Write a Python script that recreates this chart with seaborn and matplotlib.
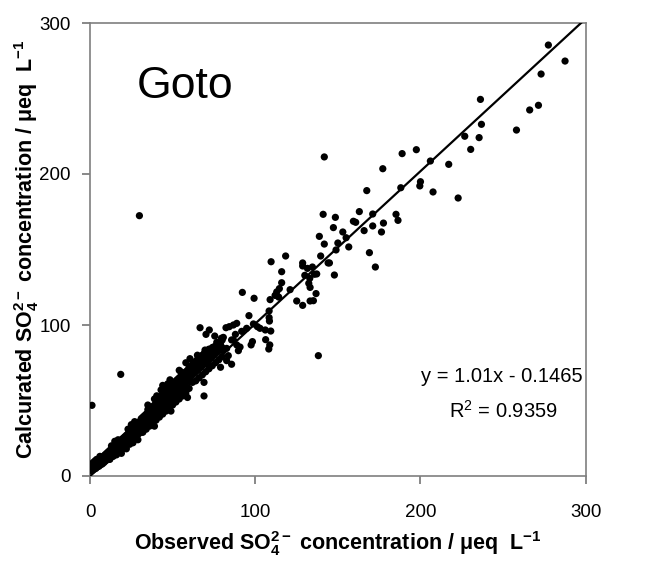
import numpy as np
import pandas as pd
import matplotlib
matplotlib.use("Agg")
import matplotlib.pyplot as plt
import seaborn as sns

# ---------------- data ----------------
band_0_10 = [(0.5, 4), (0.8, 6), (1, 5), (1, 8), (1.2, 3.5), (1.5, 6), (2, 5.5), (2, 7), (2, 9),
             (2.5, 4.5), (3, 6), (3, 8), (3, 10), (3.5, 5), (4, 7), (4, 9), (4, 11), (4.5, 6),
             (5, 8), (5, 10), (5.5, 6.5), (6, 9), (6, 11), (6, 13), (6.5, 7.5), (7, 10), (7, 12),
             (7.5, 8), (8, 11), (8, 13), (8.5, 9), (9, 12), (9, 14), (9.5, 10), (10, 12), (10, 15)]
band_10_20 = [(10.5, 11), (11, 13), (11, 16), (11.5, 12), (12, 14), (12, 17), (12.5, 12.5), (13, 15),
              (13, 18), (13.5, 13), (14, 16), (14, 19), (14.5, 14), (15, 17), (15, 20), (15.5, 15),
              (16, 18), (16, 21), (16.5, 15), (17, 19), (17, 22), (17.5, 16), (18, 20), (18, 23),
              (18.5, 17), (19, 21), (19, 24), (19.5, 18), (20, 22), (20, 25), (12, 11), (14, 13),
              (16, 14), (18, 16), (20, 18), (13, 20), (17, 24)]
band_20_30 = [(20.5, 20), (21, 23), (21, 26), (21.5, 19), (22, 24), (22, 27), (22.5, 21), (23, 25),
              (23, 28), (23.5, 22), (24, 26), (24, 29), (24.5, 23), (25, 27), (25, 31), (25.5, 24),
              (26, 28), (26, 32), (26.5, 25), (27, 29), (27, 33), (27.5, 26), (28, 30), (28, 34),
              (28.5, 27), (29, 31), (29, 35), (29.5, 28), (30, 32), (30, 36), (22, 18), (26, 22),
              (24, 21), (28, 25), (30, 29), (23, 31), (27, 36)]
band_30_40 = [(30.5, 30), (31, 33), (31, 38), (31.5, 29), (32, 34), (32, 39), (32.5, 31), (33, 35),
              (33, 40), (33.5, 32), (34, 36), (34, 41), (34.5, 33), (35, 37), (35, 42), (35.5, 34),
              (36, 38), (36, 44), (36.5, 35), (37, 39), (37, 45), (37.5, 36), (38, 40), (38, 46),
              (38.5, 37), (39, 41), (39, 47), (39.5, 38), (40, 42), (40, 48), (32, 29), (34, 31),
              (36, 33), (38, 35), (40, 37), (35, 47), (39, 51), (40.4, 53.1)]
band_40_60 = [(40.5, 40), (41, 44), (41, 50), (41.5, 41), (42, 45), (42, 51), (42.5, 42), (43, 46),
              (43, 53), (43.5, 43), (44, 47), (44, 54), (44.5, 44), (45, 48), (45, 55), (45.5, 45),
              (46, 49), (46, 56), (46.5, 46), (47, 50), (47, 57), (47.5, 47), (48, 51), (48, 58),
              (48.5, 48), (49, 52), (49, 59), (49.5, 49), (50, 53), (50, 60), (42, 39), (44, 41),
              (46, 43), (48, 45), (50, 47), (43, 57), (47, 61), (44, 60), (48.4, 63.7),
              (50.5, 51), (51, 55), (51, 62), (51.5, 52), (52, 56), (52, 63), (52.5, 53), (53, 57),
              (53, 64), (54, 58), (54, 65), (55, 59), (55, 66), (55.5, 56), (56, 60), (56, 67),
              (57, 61), (57, 68), (57.5, 58), (58, 62), (58, 69), (59, 63), (59, 70), (60, 64),
              (60, 72), (52, 49), (54, 51), (56, 53), (58, 55), (60, 58), (54, 70), (58, 75)]
band_60_90 = [(61, 66), (61, 72), (62, 67), (62, 74), (63, 68), (63, 75), (64, 69), (64, 76), (65, 70),
              (65, 77), (66, 71), (66, 78), (67, 72), (67, 79), (68, 73), (68, 80), (69, 74), (69, 81),
              (70, 75), (70, 82), (71, 76), (72, 77), (72, 84), (73, 78), (74, 79), (74, 85), (75, 80),
              (76, 81), (76, 86), (77, 82), (78, 83), (78, 88), (79, 84), (80, 85), (80, 90), (62, 62),
              (64, 63), (66, 65), (68, 67), (70, 69), (72, 71), (74, 73), (76, 75), (78, 77), (80, 79),
              (60.5, 77.7), (74.7, 85.4), (78.7, 87.6), (80.7, 83), (83.7, 79.7), (89.8, 83),
              (90.8, 85.4), (80.7, 91.8), (76.7, 88.5), (73.6, 78.6), (71.6, 74.2), (63.6, 69.7),
              (56.5, 65.3), (54.5, 57.5), (70.6, 83), (82.7, 76.4), (69, 53)]
band_center = [(2.5, 6), (5, 7), (7, 9), (9, 11), (11, 14), (13, 16), (15, 18), (17, 20), (19, 22),
               (21, 24), (23, 26), (25, 28), (27, 31), (29, 33), (31, 35), (33, 37), (35, 39),
               (37, 42), (39, 44), (41, 46), (43, 49), (45, 51), (47, 53), (49, 55), (51, 58),
               (53, 60), (55, 62), (57, 64), (59, 66), (61, 69), (63, 71), (65, 73), (67, 75),
               (69, 77), (71, 79), (73, 81), (75, 83), (77, 85), (79, 87), (15, 23), (25, 34),
               (35, 44), (45, 58), (55, 69), (65, 80), (19, 15), (29, 24), (39, 33), (49, 43),
               (59, 52), (69, 62), (79, 72)]
mid_pts = [(66.6, 98.2), (69.6, 83.4), (70.2, 93.8), (72.2, 96.7), (75.5, 92.7), (79.5, 91.2),
           (82.3, 98.2), (82.7, 84.5), (84.3, 98.9), (85.7, 74), (85.7, 90.1), (86.8, 90.1),
           (86.8, 100), (88, 93.8), (88.8, 101.1), (88.8, 86.8), (91.8, 95.8), (92.2, 121.6),
           (94.8, 97.8), (96.2, 106.2), (97.5, 86.8), (98.3, 89), (98.9, 100.7), (99.3, 117.7),
           (101.3, 98.9), (102.9, 97.8), (106.1, 96.7), (106.3, 90.3), (108.2, 84.1), (108.8, 86.8),
           (109.4, 96), (108.6, 102.6), (108.4, 104.9), (108.4, 109.3), (109, 116.8), (109.6, 141.9),
           (112, 119.6), (113, 121.9), (114.2, 118.5), (114.6, 124.1), (116, 128), (116, 135.3),
           (118.4, 145.7), (121.1, 123.4), (125.1, 115.9), (128.7, 113), (128.7, 139.1),
           (128.7, 141.1), (130, 132.9), (131.6, 137.5), (133.2, 124.9), (132.4, 127.6),
           (133, 130.9), (134.6, 138.4), (135.8, 133.6), (137.2, 133.8), (133.2, 115.9),
           (135.2, 116.1), (136.8, 120.8)]
high_pts = [(138.8, 158.7), (139.6, 145.7), (141.1, 173.3), (141.8, 153.6), (144.1, 141.1),
            (144.9, 141.1), (147.3, 164.5), (147.9, 133.1), (148.5, 171.3), (148.9, 149.7),
            (150, 154.3), (153, 161.6), (155, 157.8), (156.6, 151.7), (159.4, 168.7), (160.8, 168),
            (163, 175.1), (165.9, 162.5), (167.5, 189), (169.1, 147.9), (171.1, 165.6),
            (171.1, 173.5), (172.7, 138.4), (176.4, 161.6), (177.6, 167.5), (177.2, 203.5),
            (185.2, 173.3), (186.4, 169.3), (188.1, 190.9), (188.9, 213.5), (197.5, 216.1),
            (199.6, 192.1), (200, 194.9), (206, 208.6), (207.6, 188.1), (217.1, 206.4),
            (222.8, 184.1), (226.8, 225), (230.4, 216.3), (235.5, 224.1), (236.9, 232.9),
            (236.3, 249.4), (258.1, 229.1), (266.1, 242.4), (271.4, 245.5), (273, 266.2),
            (277.4, 285.4), (287.5, 274.8)]
outlier_pts = [(1.2, 46.8), (18.6, 67.3), (29.9, 172.4), (138.2, 79.7), (141.8, 211.3)]

fit_slope = 1.01
fit_intercept = -0.1465
r_squared = 0.9359

x_ticks = [0, 100, 200, 300]
y_ticks = [0, 100, 200, 300]

station = "Goto"

# ---------------- build table ----------------
all_pts = band_0_10 + band_10_20 + band_20_30 + band_30_40 + band_40_60 + band_60_90 \
    + band_center + mid_pts + high_pts + outlier_pts
df = pd.DataFrame(all_pts, columns=["observed", "calculated"])

# ---------------- style ----------------
sns.set_style("white")
gray = "#7f7f7f"
plt.rcParams.update({
    "font.family": ["Liberation Sans", "DejaVu Sans"],
    "mathtext.fontset": "custom",
    "mathtext.rm": "Liberation Sans",
    "mathtext.bf": "Liberation Sans:bold",
    "mathtext.it": "Liberation Sans:italic",
    "text.color": "black",
    "axes.labelcolor": "black",
    "xtick.bottom": True,
    "ytick.left": True,
    "xtick.direction": "out",
    "ytick.direction": "out",
    "xtick.major.size": 6,
    "ytick.major.size": 6,
    "xtick.major.width": 1.3,
    "ytick.major.width": 1.3,
    "xtick.color": gray,
    "ytick.color": gray,
    "xtick.labelcolor": "black",
    "ytick.labelcolor": "black",
})

fig = plt.figure(figsize=(6.52, 5.63), dpi=100)
ax = fig.add_axes([90 / 652, 1 - 476 / 563, 495.7 / 652, 453 / 563])

sns.scatterplot(data=df, x="observed", y="calculated", ax=ax, color="black",
                s=27, edgecolor="none", linewidth=0, zorder=3)

ax.set_xlim(0, 300)
ax.set_ylim(0, 300)
line_x = np.array(ax.get_xlim())
sns.lineplot(x=line_x, y=fit_slope * line_x + fit_intercept, ax=ax, color="black",
             linewidth=1.6, zorder=4)

ax.set_xticks(x_ticks)
ax.set_yticks(y_ticks)
ax.set_xticklabels([str(t) for t in x_ticks])
ax.set_yticklabels([str(t) for t in y_ticks])

for sp in ax.spines.values():
    sp.set_color(gray)
    sp.set_linewidth(1.2)
    sp.set_visible(True)
ax.tick_params(axis="both", which="major", direction="out", length=6, width=1.3,
               color=gray, labelsize=13.5, labelcolor="black",
               bottom=True, left=True, top=False, right=False)
ax.tick_params(axis="x", pad=14)
ax.tick_params(axis="y", pad=8)

ax.set_xlabel(r"Observed SO$_\mathbf{4}^\mathbf{2-}$ concentration / μeq  L$^\mathbf{-1}$",
              fontsize=15.5, fontweight="bold")
ax.set_ylabel(r"Calcurated SO$_\mathbf{4}^\mathbf{2-}$ concentration / μeq  L$^\mathbf{-1}$",
              fontsize=15.5, fontweight="bold")
ax.xaxis.set_label_coords(0.5, -0.118)
ax.yaxis.set_label_coords(-0.098, 0.5)

ax.text(28.5, 258, station, fontsize=32, ha="left", va="center")
ax.text(249.5, 66, f"y = {fit_slope:.2f}x - {abs(fit_intercept):.4f}", fontsize=14.5,
        ha="center", va="center")
ax.text(250, 43, r"R$^\mathrm{2}$" + f" = {r_squared:.4f}", fontsize=14.5,
        ha="center", va="center")

if ax.get_legend() is not None:
    ax.get_legend().remove()
fig.savefig("out.png", dpi=100)
